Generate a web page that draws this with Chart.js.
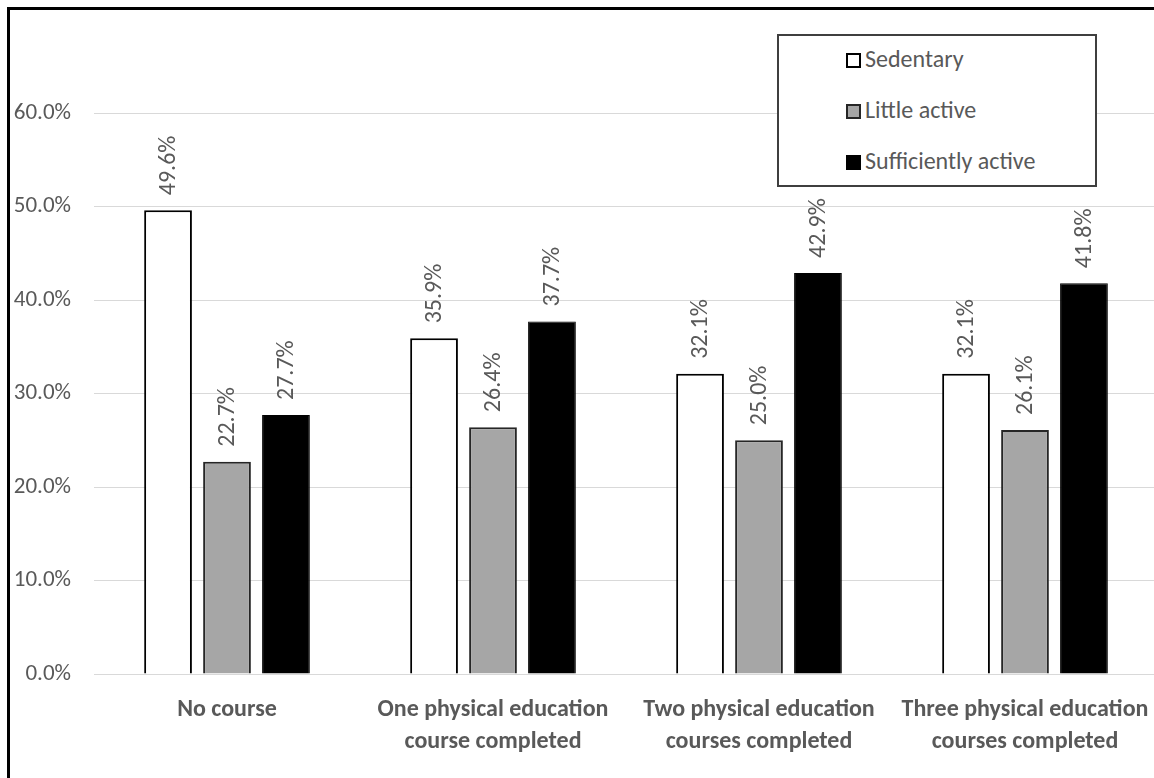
<!DOCTYPE html>
<html>
<head>
<meta charset="utf-8">
<title>Physical activity by PE courses completed</title>
<script src="https://cdn.jsdelivr.net/npm/chart.js@4"></script>
<style>
  html, body { margin: 0; padding: 0; background: #fff; overflow: hidden; }
  body { width: 1154px; height: 778px; position: relative; font-family: 'Carlito', 'Liberation Sans', Arial, sans-serif; }
  #frame { position: absolute; left: 7px; top: 7px; width: 1200px; height: 820px; border: 3px solid #000; box-sizing: border-box; }
  #scoreChart { position: absolute; left: 0; top: 0; }
  #legend { position: absolute; left: 777px; top: 34px; width: 320px; height: 153px; box-sizing: border-box;
    border: 2px solid #3f3f3f; background: #fff; }
  .item { position: absolute; left: 67px; height: 26px; line-height: 26px; font-size: 24px; color: #595959; white-space: nowrap; }
  .item i { display: inline-block; width: 15px; height: 15px; box-sizing: border-box; vertical-align: -1px; margin-right: 4px; }
</style>
</head>
<body>
<div id="frame"></div>
<canvas id="scoreChart" width="1158" height="778"></canvas>
<div id="legend"></div>

<script>
//  Share of students per activity level, by PE courses completed
const categories = [
  'No course',
  ['One physical education', 'course completed'],
  ['Two physical education', 'courses completed'],
  ['Three physical education', 'courses completed']
]
const seriesNames = ['Sedentary', 'Little active', 'Sufficiently active']
const sedentary = [49.6, 35.9, 32.1, 32.1]
const littleActive = [22.7, 26.4, 25.0, 26.1]
const sufficientlyActive = [27.7, 37.7, 42.9, 41.8]
const yTicks = [0, 10, 20, 30, 40, 50, 60]

const fills = ['#ffffff', '#a6a6a6', '#000000']
const borders = ['#000000', '#262626', '#000000']
const textColor = '#595959'
const fontFamily = "'Carlito', 'Liberation Sans', Arial, sans-serif"

const pct = v => v.toFixed(1) + '%'

//  Rotated value labels above each bar
const barLabels = {
  id: 'barLabels',
  afterDatasetsDraw (chart) {
    const ctx = chart.ctx
    ctx.save()
    ctx.fillStyle = textColor
    ctx.font = `24px ${fontFamily}`
    ctx.textAlign = 'left'
    ctx.textBaseline = 'middle'
    chart.data.datasets.forEach((ds, i) => {
      chart.getDatasetMeta(i).data.forEach((bar, j) => {
        ctx.save()
        ctx.translate(bar.x + 1, bar.y - 15)
        ctx.rotate(-Math.PI / 2)
        ctx.fillText(pct(ds.data[j]), 0, 0)
        ctx.restore()
      })
    })
    ctx.restore()
  }
}

function chartStats () {
  const ctx = document.getElementById('scoreChart').getContext('2d')
  return new Chart(ctx, {
    type: 'bar',
    data: {
      labels: categories,
      datasets: [sedentary, littleActive, sufficientlyActive].map((values, i) => ({
        label: seriesNames[i],
        data: values,
        backgroundColor: fills[i],
        borderColor: borders[i],
        borderWidth: i === 2 ? 1 : 2,
        categoryPercentage: 0.665,
        barPercentage: 0.81
      }))
    },
    options: {
      responsive: false,
      animation: false,
      devicePixelRatio: 1,
      layout: { padding: { top: 113, left: 0, right: 0, bottom: 0 } },
      plugins: {
        legend: { display: false },
        tooltip: { enabled: false }
      },
      scales: {
        x: {
          grid: { display: false, drawTicks: false },
          border: { display: false },
          ticks: {
            color: textColor,
            padding: 20,
            maxRotation: 0,
            autoSkip: false,
            font: { family: fontFamily, size: 24, weight: 'bold', lineHeight: 1.33 }
          },
          // keep the plot running to the right edge, labels may overhang
          afterFit (scale) {
            scale.height = 104
            scale.paddingLeft = 0
            scale.paddingRight = 0
          }
        },
        y: {
          min: 0,
          max: 60,
          afterBuildTicks (scale) { scale.ticks = yTicks.map(v => ({ value: v })) },
          grid: { color: '#d9d9d9', lineWidth: 1, drawTicks: false },
          border: { display: false },
          ticks: {
            color: textColor,
            padding: 23,
            font: { family: fontFamily, size: 23 },
            callback: v => pct(v)
          },
          afterFit (scale) {
            scale.width = 94
            scale.paddingTop = 0
            scale.paddingBottom = 0
          }
        }
      }
    },
    plugins: [barLabels]
  })
}

//  Boxed legend sitting over the upper right of the plot
function buildLegend () {
  const box = document.getElementById('legend')
  const rows = [25, 76, 127]
  seriesNames.forEach((name, i) => {
    const item = document.createElement('div')
    item.className = 'item'
    item.style.top = (rows[i] - 13 - 2) + 'px'
    item.innerHTML = `<i style="background:${fills[i]};border:2px solid ${borders[i]}"></i>${name}`
    box.appendChild(item)
  })
}

chartStats()
buildLegend()
</script>
</body>
</html>
